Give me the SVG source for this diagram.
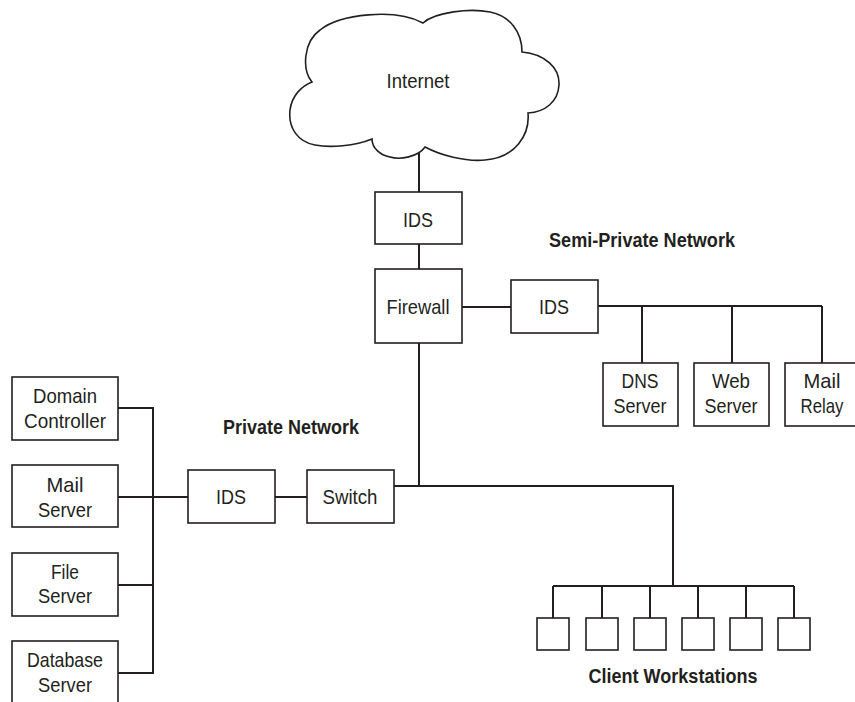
<svg xmlns="http://www.w3.org/2000/svg" width="855" height="702" viewBox="0 0 855 702">
<style>
.box{fill:#fff;stroke:#231f20;stroke-width:1.6}
.ln{fill:none;stroke:#231f20;stroke-width:2}
.t{font-family:"Liberation Sans",Arial,sans-serif;font-size:21px;fill:#231f20;text-anchor:middle}
.b{font-family:"Liberation Sans",Arial,sans-serif;font-size:20px;font-weight:bold;fill:#231f20;text-anchor:middle}
</style>
<rect width="855" height="702" fill="#fff"/>
<g id="connectors">
<path class="ln" d="M419,152 V192 M419,244 V269 M462,307 H511 M598,306 H822 M642,306 V363 M732,306 V363 M822,306 V363 M419,343 V486 M394,486 H673 V586 M553,586 H794 M553,586 V618 M602,586 V618 M650,586 V618 M698,586 V618 M746,586 V618 M794,586 V618 M275,497 H307 M118,497 H188 M118,408 H153 V673 H118 M118,585 H153"/>
</g>
<g id="internet">
<path class="box" d="M312,82 C302,70 303,42 320,30 C340,14 395,8 423,23 C435,12 470,8 490,12 C510,16 522,32 522,52 C545,54 560,68 559,85 C558,102 545,112 528,113 C530,135 515,158 485,160 C465,162 440,155 425,147 C418,157 400,160 390,157 C380,155 372,148 372,139 C355,146 330,148 315,145 C298,142 288,128 290,110 C292,95 302,86 312,82 Z"/>
<text class="t" x="418" y="88" textLength="63" lengthAdjust="spacingAndGlyphs">Internet</text>
</g>
<g id="ids-top"><rect class="box" x="375" y="192" width="87" height="52"/><text class="t" x="418" y="227" textLength="30" lengthAdjust="spacingAndGlyphs">IDS</text></g>
<g id="firewall"><rect class="box" x="375" y="269" width="87" height="74"/><text class="t" x="418" y="314" textLength="63" lengthAdjust="spacingAndGlyphs">Firewall</text></g>
<g id="ids-semi"><rect class="box" x="511" y="280" width="87" height="53"/><text class="t" x="554" y="314" textLength="30" lengthAdjust="spacingAndGlyphs">IDS</text></g>
<g id="label-semi"><text class="b" x="642" y="247" textLength="186" lengthAdjust="spacingAndGlyphs">Semi-Private Network</text></g>
<g id="dns"><rect class="box" x="603" y="363" width="75" height="63"/><text class="t" x="640" y="388" textLength="37" lengthAdjust="spacingAndGlyphs">DNS</text><text class="t" x="640" y="413" textLength="53" lengthAdjust="spacingAndGlyphs">Server</text></g>
<g id="web"><rect class="box" x="694" y="363" width="75" height="63"/><text class="t" x="731" y="388" textLength="38" lengthAdjust="spacingAndGlyphs">Web</text><text class="t" x="731" y="413" textLength="53" lengthAdjust="spacingAndGlyphs">Server</text></g>
<g id="mailrelay"><rect class="box" x="785" y="363" width="75" height="63"/><text class="t" x="822" y="388" textLength="37" lengthAdjust="spacingAndGlyphs">Mail</text><text class="t" x="822" y="413" textLength="43" lengthAdjust="spacingAndGlyphs">Relay</text></g>
<g id="label-private"><text class="b" x="291" y="434" textLength="136" lengthAdjust="spacingAndGlyphs">Private Network</text></g>
<g id="ids-private"><rect class="box" x="188" y="470" width="87" height="53"/><text class="t" x="231" y="504" textLength="30" lengthAdjust="spacingAndGlyphs">IDS</text></g>
<g id="switch"><rect class="box" x="307" y="470" width="87" height="53"/><text class="t" x="350" y="504" textLength="55" lengthAdjust="spacingAndGlyphs">Switch</text></g>
<g id="domain"><rect class="box" x="12" y="377" width="106" height="63"/><text class="t" x="65" y="403" textLength="64" lengthAdjust="spacingAndGlyphs">Domain</text><text class="t" x="65" y="428" textLength="82" lengthAdjust="spacingAndGlyphs">Controller</text></g>
<g id="mailserver"><rect class="box" x="12" y="465" width="106" height="62"/><text class="t" x="65" y="492" textLength="37" lengthAdjust="spacingAndGlyphs">Mail</text><text class="t" x="65" y="517" textLength="54" lengthAdjust="spacingAndGlyphs">Server</text></g>
<g id="fileserver"><rect class="box" x="12" y="553" width="106" height="63"/><text class="t" x="65" y="579" textLength="28" lengthAdjust="spacingAndGlyphs">File</text><text class="t" x="65" y="603" textLength="54" lengthAdjust="spacingAndGlyphs">Server</text></g>
<g id="dbserver"><rect class="box" x="12" y="641" width="106" height="64"/><text class="t" x="65" y="667" textLength="76" lengthAdjust="spacingAndGlyphs">Database</text><text class="t" x="65" y="692" textLength="54" lengthAdjust="spacingAndGlyphs">Server</text></g>
<g id="ws1"><rect class="box" x="537" y="618" width="32" height="32"/></g>
<g id="ws2"><rect class="box" x="586" y="618" width="32" height="32"/></g>
<g id="ws3"><rect class="box" x="634" y="618" width="32" height="32"/></g>
<g id="ws4"><rect class="box" x="682" y="618" width="32" height="32"/></g>
<g id="ws5"><rect class="box" x="730" y="618" width="32" height="32"/></g>
<g id="ws6"><rect class="box" x="778" y="618" width="32" height="32"/></g>
<g id="label-clients"><text class="b" x="673" y="683" textLength="169" lengthAdjust="spacingAndGlyphs">Client Workstations</text></g>
</svg>
